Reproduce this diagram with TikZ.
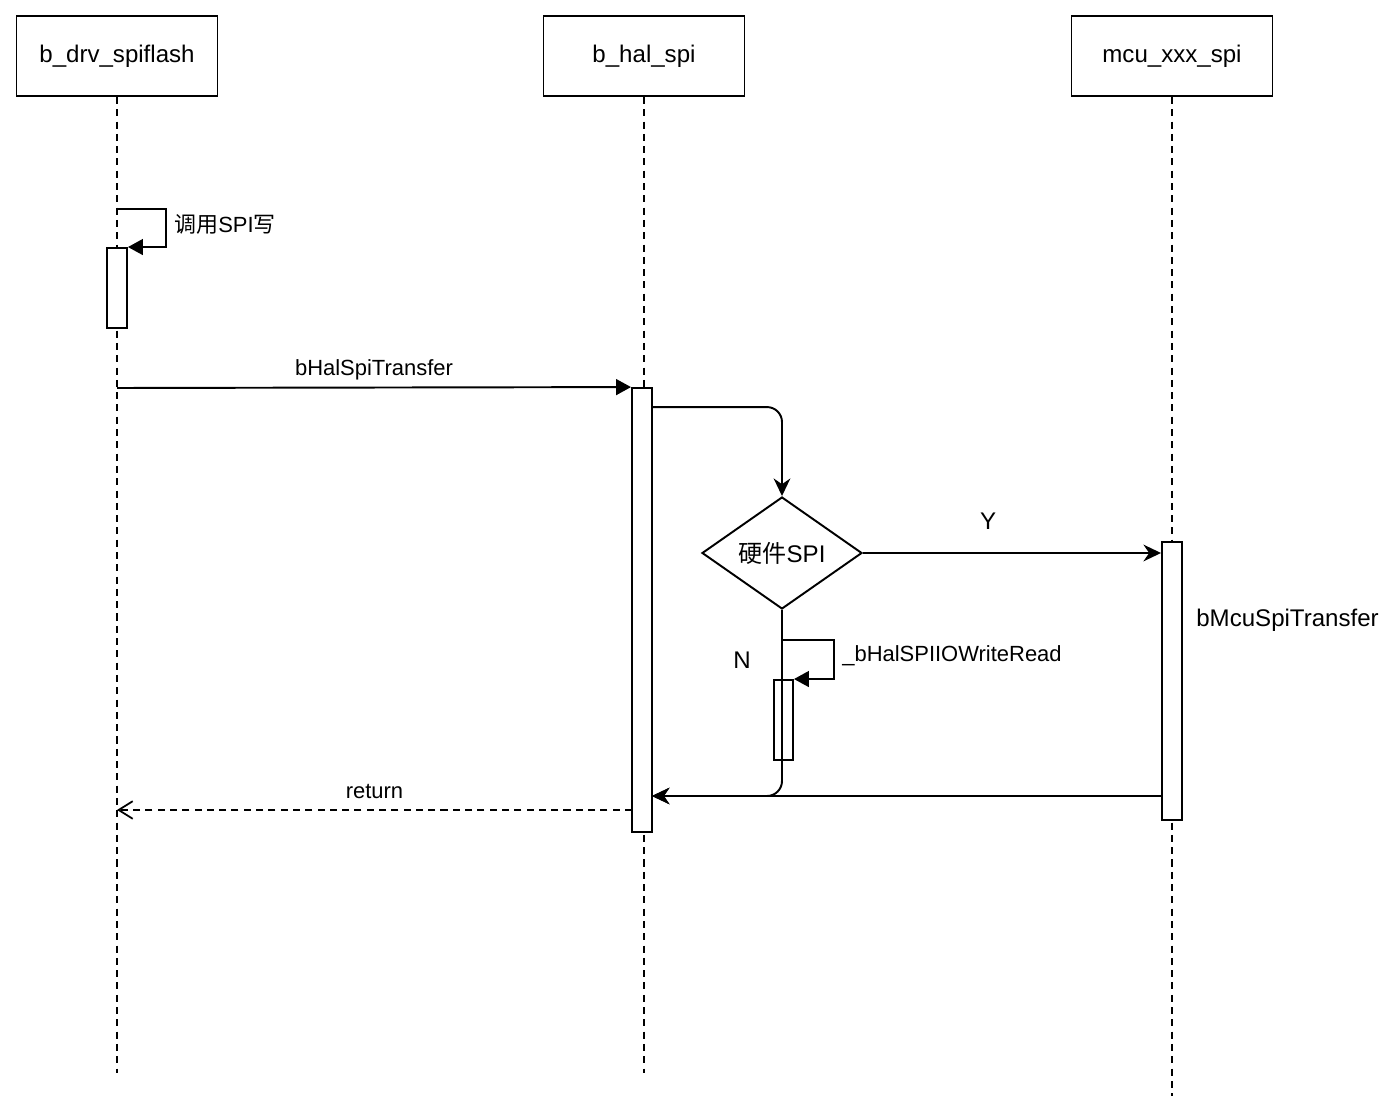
\documentclass[tikz,border=0pt]{standalone}
\usepackage{fontspec}
\setmainfont{Liberation Sans}
\newfontfamily\cjk{Noto Sans CJK SC}
\usetikzlibrary{arrows.meta,shapes.geometric}
\newcommand{\bigtxt}{\fontsize{13.7pt}{16pt}\selectfont}
\newcommand{\smalltxt}{\fontsize{12.5pt}{15pt}\selectfont}
\tikzset{
  head/.style={draw,line width=1.1pt,minimum width=4.02cm,minimum height=1.6cm,font=\bigtxt},
  life/.style={line width=1pt,dash pattern=on 4pt off 3pt},
  act/.style={draw,fill=white,line width=1.1pt,minimum width=0.4cm,inner sep=0pt},
  call/.style={-{Triangle[length=8.5pt,width=9pt]},line width=1.1pt},
  flow/.style={-{Stealth[length=10pt,width=9.5pt]},line width=1.1pt},
  ret/.style={-{Straight Barb[length=8pt,width=10pt]},line width=1pt,dash pattern=on 4pt off 3pt},
  dec/.style={diamond,draw,line width=1.1pt,aspect=1.43,minimum width=3.2cm,minimum height=2.24cm,inner sep=1pt,font=\bigtxt},
  lbl/.style={inner sep=0pt,font=\smalltxt}
}
\begin{document}
\begin{tikzpicture}[x=0.02cm,y=-0.02cm]
\useasboundingbox (0,0) rectangle (1394,1114);
% participants
\node[head] (drv) at (117,56) {b\_drv\_spiflash};
\node[head] (hal) at (644,56) {b\_hal\_spi};
\node[head] (mcu) at (1172,56) {mcu\_xxx\_spi};
\coordinate (drvEnd) at (117,1073);
\coordinate (halEnd) at (644,1073);
\coordinate (mcuEnd) at (1172,1096);
\draw[life] (drv) -- (drvEnd);
\draw[life] (hal) -- (halEnd);
\draw[life] (mcu) -- (mcuEnd);
% activations
\node[act,minimum height=1.6cm] (actDrv) at (117,288) {};
\node[act,minimum height=8.88cm] (actHal) at (642,610) {};
\node[act,minimum height=5.56cm] (actMcu) at (1172,681) {};
\node[dec] (hw) at (782,553) {{\cjk 硬件}SPI};
\node[act,minimum height=1.6cm,minimum width=0.38cm] (actIO) at (783.5,720) {};
% self call
\coordinate (c1) at (117,209);
\draw[call] (c1) -- ++(49,0) |- (actDrv.north east);
\node[lbl,anchor=west,font=\smalltxt] at (174,224) {{\cjk 调用}SPI{\cjk 写}};
% transfer
\coordinate (s2) at (117,388);
\draw[call] (s2) -- (actHal.north west) node[midway,lbl,yshift=0.36cm] {bHalSpiTransfer};
\draw[flow,rounded corners=0.3cm] ([yshift=-0.4cm]actHal.north east) -| (hw.north);
\draw[flow] (hw.east) -- (actMcu.west |- hw.east) node[pos=0.42,yshift=0.64cm,font=\bigtxt] {Y};
\node[lbl,anchor=west,font=\bigtxt] at (1196,620) {bMcuSpiTransfer};
% N branch
\coordinate (back) at (652,796);
\coordinate (mcuBack) at (1162,796);
\draw[flow,rounded corners=0.3cm] (hw.south) |- (back);
\node[font=\bigtxt] at (742,660) {N};
\coordinate (c2) at (782,640);
\draw[call] (c2) -- ++(52,0) |- (actIO.north east);
\node[lbl,anchor=west] at (842,656) {\_bHalSPIIOWriteRead};
\draw[flow] (mcuBack) -- (back);
% return
\coordinate (r1) at (632,810);
\coordinate (r2) at (117,810);
\draw[ret] (r1) -- (r2) node[midway,lbl,yshift=0.36cm] {return};
\end{tikzpicture}
\end{document}
